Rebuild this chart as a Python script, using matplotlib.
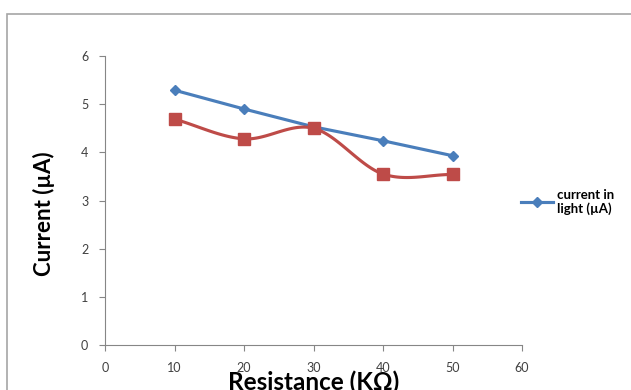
import numpy as np
import matplotlib
matplotlib.use("Agg")
import matplotlib.pyplot as plt
from matplotlib.patches import Rectangle

# data
resistance = [10, 20, 30, 40, 50]
current_light = [5.29, 4.9, 4.53, 4.24, 3.93]
current_dark = [4.69, 4.28, 4.5, 3.55, 3.54]


def smooth(xs, ys, n=30):
    # Catmull-Rom style smoothing, like Excel's "smoothed line"
    xs = np.asarray(xs, float)
    ys = np.asarray(ys, float)
    px = np.concatenate([[2 * xs[0] - xs[1]], xs, [2 * xs[-1] - xs[-2]]])
    py = np.concatenate([[2 * ys[0] - ys[1]], ys, [2 * ys[-1] - ys[-2]]])
    out_x, out_y = [], []
    t = np.linspace(0, 1, n)
    for i in range(1, len(px) - 2):
        c1x = px[i] + (px[i + 1] - px[i - 1]) / 6
        c1y = py[i] + (py[i + 1] - py[i - 1]) / 6
        c2x = px[i + 1] - (px[i + 2] - px[i]) / 6
        c2y = py[i + 1] - (py[i + 2] - py[i]) / 6
        bx = (1 - t) ** 3 * px[i] + 3 * (1 - t) ** 2 * t * c1x + 3 * (1 - t) * t ** 2 * c2x + t ** 3 * px[i + 1]
        by = (1 - t) ** 3 * py[i] + 3 * (1 - t) ** 2 * t * c1y + 3 * (1 - t) * t ** 2 * c2y + t ** 3 * py[i + 1]
        out_x.extend(bx)
        out_y.extend(by)
    return np.array(out_x), np.array(out_y)


plt.rcParams['font.family'] = ['Lato', 'DejaVu Sans']

fig = plt.figure(figsize=(6.31, 3.90), dpi=100)
fig.patches.append(Rectangle((7 / 631, -0.1), 1.0, 1 - 14 / 390 + 0.1, transform=fig.transFigure,
                             fill=False, edgecolor="#a6a6a6", linewidth=1.2))
# plot area: x 105..522 px, y 56..345 px
ax = fig.add_axes([105 / 631, 45 / 390, (522 - 105) / 631, (345 - 56) / 390])

blue = "#4a7ebb"
red = "#be4b48"

ax.plot(resistance, current_light, color=blue, lw=2.25, marker="D", ms=5.5,
        label="current in\nlight (µA)")
sx, sy = smooth(resistance, current_dark)
ax.plot(sx, sy, color=red, lw=2.25)
ax.plot(resistance, current_dark, color=red, lw=0, marker="s", ms=8)

ax.set_xlim(0, 60)
ax.set_ylim(0, 6)
ax.set_xticks(range(0, 61, 10))
ax.set_yticks(range(0, 7))
for s in ["top", "right"]:
    ax.spines[s].set_visible(False)
for s in ["left", "bottom"]:
    ax.spines[s].set_color("#868686")
ax.tick_params(colors="#868686", length=4, labelsize=9, labelcolor="#404040")
ax.tick_params(axis="x", pad=8)
ax.tick_params(axis="y", pad=8)

# label sits low, partly cut by the picture's bottom edge as in the original
ax.set_xlabel("Resistance (KΩ)", fontsize=17.5, fontweight="bold", labelpad=-2.5)
ax.set_ylabel("Current (µA)", fontsize=16, fontweight="bold")
ax.yaxis.set_label_coords(-0.12, 0.455)

fig.legend(loc="center left", bbox_to_anchor=(509 / 631, 1 - 202 / 390), frameon=False,
           prop={"size": 9.5, "weight": "bold"}, handlelength=2.4, handletextpad=0.3,
           labelspacing=0.5)

fig.savefig("out.png", dpi=100)
